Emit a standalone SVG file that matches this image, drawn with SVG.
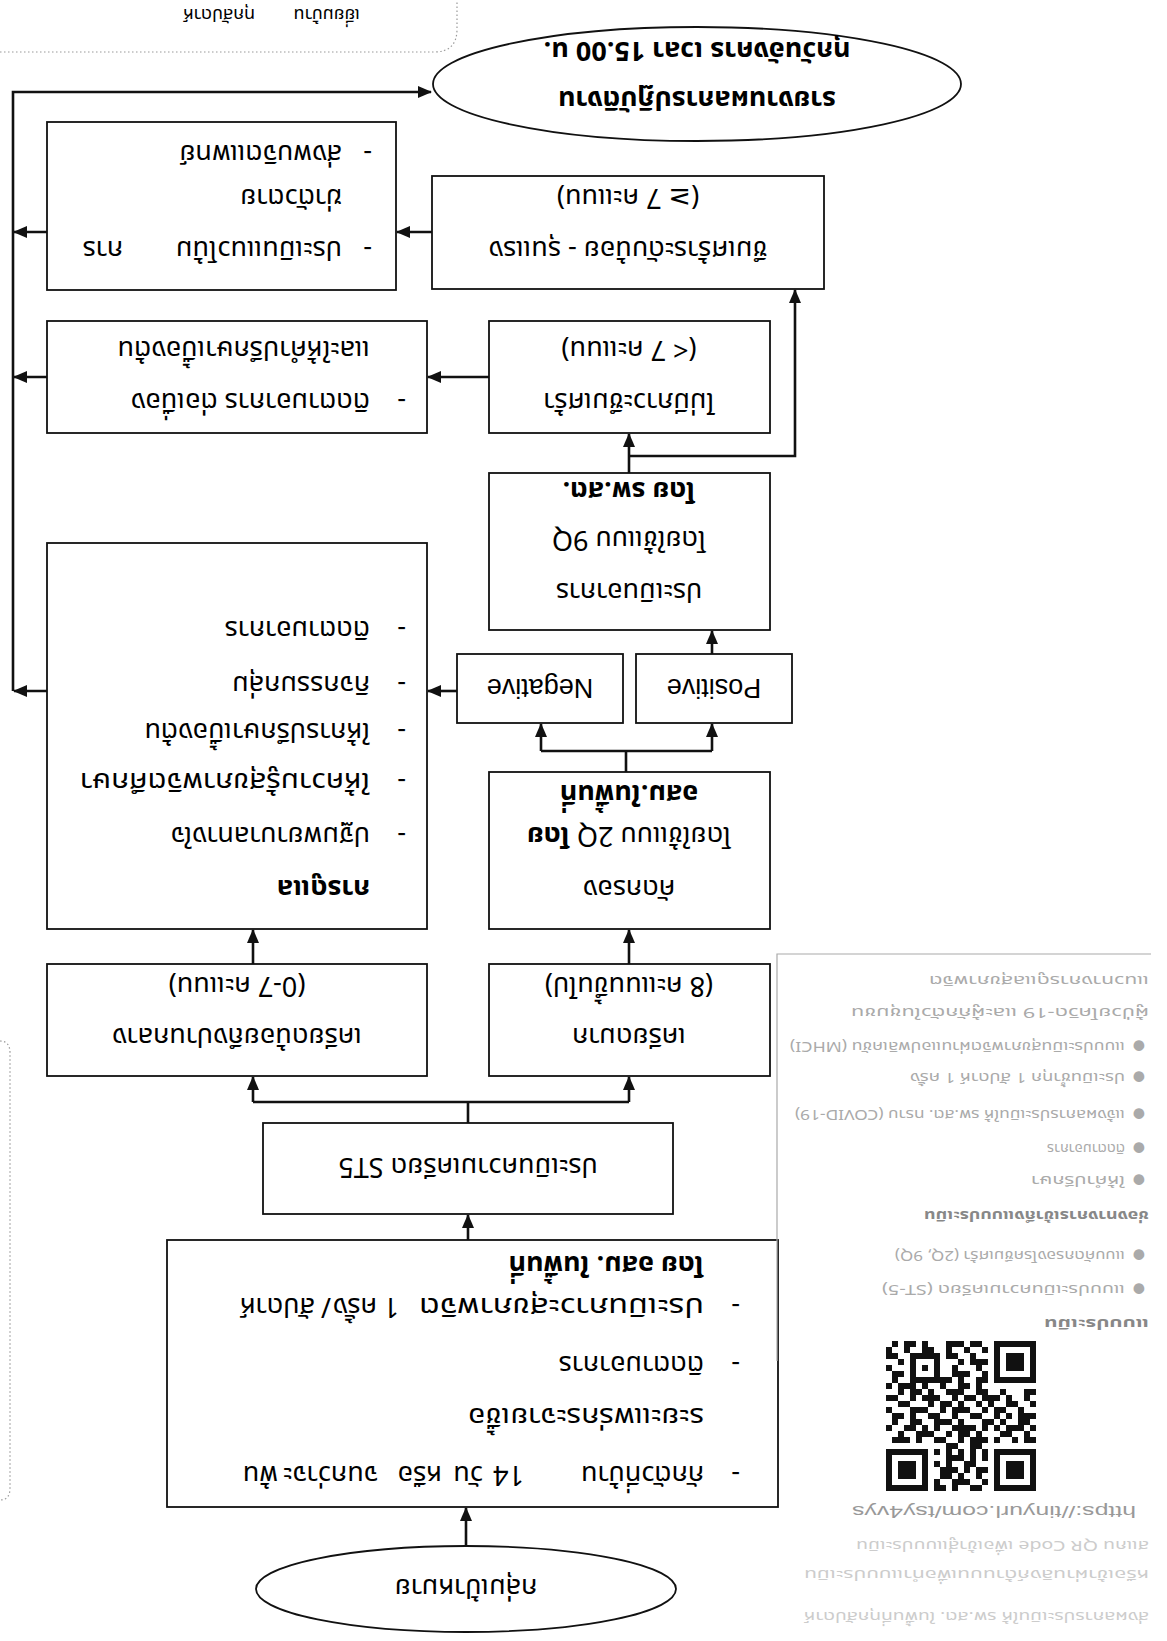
<svg xmlns="http://www.w3.org/2000/svg" width="1167" height="1641" viewBox="0 0 1167 1641">
<style>
.bx{fill:#fff;stroke:#111;stroke-width:1.8}
.el{fill:#fff;stroke:#111;stroke-width:1.8}
.cn{fill:none;stroke:#111;stroke-width:2.6}
.t{font-family:"Noto Sans Thai","Noto Serif Thai","TH Sarabun New","Loma","Garuda","Norasi","Kinnari","Tlwg Typo","DejaVu Sans",sans-serif;font-size:27px;fill:#000}
.b{font-weight:bold}
.c{text-anchor:middle}
.en{font-family:"Liberation Sans",Arial,sans-serif;font-size:27px;fill:#000}
.g{font-family:"Noto Sans Thai","Loma","Garuda","DejaVu Sans",sans-serif;font-size:14px;fill:#aaa}
.gb{font-weight:bold;fill:#888}
.gl{fill:#ccc}
.u{font-family:"Liberation Sans",Arial,sans-serif;font-size:17px;fill:#999}
.dot{fill:none;stroke:#999;stroke-width:1.2;stroke-dasharray:1.5 2.5}
</style>
<defs>
<marker id="ah" markerWidth="14" markerHeight="12" refX="13" refY="6" orient="auto" markerUnits="userSpaceOnUse">
<path d="M0 0L14 6L0 12z" fill="#111"/>
</marker>
</defs>
<rect width="1167" height="1641" fill="#fff"/>
<g transform="rotate(180 583.5 820.5)">
<g id="connectors">
<path class="cn" d="M701 95V133" marker-end="url(#ah)"/>
<path class="cn" d="M699 401V426" marker-end="url(#ah)"/>
<path class="cn" d="M699 518V539M914 539H538"/>
<path class="cn" d="M914 539V564" marker-end="url(#ah)"/>
<path class="cn" d="M538 539V564" marker-end="url(#ah)"/>
<path class="cn" d="M914 677V711" marker-end="url(#ah)"/>
<path class="cn" d="M538 677V711" marker-end="url(#ah)"/>
<path class="cn" d="M541 869V890M626 890H455"/>
<path class="cn" d="M626 890V917" marker-end="url(#ah)"/>
<path class="cn" d="M455 890V917" marker-end="url(#ah)"/>
<path class="cn" d="M710 950H739" marker-end="url(#ah)"/>
<path class="cn" d="M455 987V1010" marker-end="url(#ah)"/>
<path class="cn" d="M538 1168V1207" marker-end="url(#ah)"/>
<path class="cn" d="M538 1185H372V1351" marker-end="url(#ah)"/>
<path class="cn" d="M678 1264H739" marker-end="url(#ah)"/>
<path class="cn" d="M735 1409H770" marker-end="url(#ah)"/>
<path class="cn" d="M1120 950H1153" marker-end="url(#ah)"/>
<path class="cn" d="M1120 1264H1153" marker-end="url(#ah)"/>
<path class="cn" d="M1120 1409H1153" marker-end="url(#ah)"/>
<path class="cn" d="M1154 950V1549H736" marker-end="url(#ah)"/>
</g>
<g id="n_target">
<ellipse class="el" cx="701" cy="52" rx="210" ry="43"/>
<text class="t c" x="701" y="62">กลุ่มเป้าหมาย</text>
</g>
<g id="n_box1">
<rect class="bx" x="389" y="134" width="611" height="267"/>
<text class="t" x="427" y="175">-</text>
<text class="t" x="463" y="175">กักตัวที่บ้าน</text>
<text class="t" x="643" y="175">14</text>
<text class="t" x="684" y="175">วัน</text>
<text class="t" x="725" y="175">หรือ</text>
<text class="t" x="789" y="175">จนกว่าจะ</text>
<text class="t" x="889" y="175">พ้น</text>
<text class="t" x="463" y="233" textLength="236" lengthAdjust="spacingAndGlyphs">ระยะแพร่กระจายเชื้อ</text>
<text class="t" x="427" y="285">-</text>
<text class="t" x="463" y="285">ติดตามอาการ</text>
<text class="t" x="427" y="343">-</text>
<text class="t" x="463" y="343" textLength="285" lengthAdjust="spacingAndGlyphs">ประเมินภาวะสุขภาพจิต</text>
<text class="t" x="768" y="343">1</text>
<text class="t" x="790" y="343">ครั้ง</text>
<text class="t" x="836" y="343">/</text>
<text class="t" x="852" y="343">สัปดาห์</text>
<text class="t b" x="463" y="385">โดย อสม. ในพื้นที่</text>
</g>
<g id="n_st5">
<rect class="bx" x="494" y="427" width="410" height="91"/>
<text class="t c" x="699" y="483">ประเมินความเครียด ST5</text>
</g>
<g id="n_low">
<rect class="bx" x="740" y="565" width="380" height="112"/>
<text class="t c" x="930" y="613">เครียดน้อยถึงปานกลาง</text>
<text class="t c" x="930" y="664">(0-7 คะแนน)</text>
</g>
<g id="n_high">
<rect class="bx" x="397" y="565" width="281" height="112"/>
<text class="t c" x="538" y="613">เครียดมาก</text>
<text class="t c" x="538" y="664">(8 คะแนนขึ้นไป)</text>
</g>
<g id="n_care">
<rect class="bx" x="740" y="712" width="380" height="386"/>
<text class="t b" x="797" y="761">การดูแล</text>
<text class="t" x="761" y="814">-</text>
<text class="t" x="797" y="814">ปฐมพยาบาลทางใจ</text>
<text class="t" x="761" y="868">-</text>
<text class="t" x="797" y="868" textLength="290" lengthAdjust="spacingAndGlyphs">ให้ความรู้สุขภาพจิตศึกษา</text>
<text class="t" x="761" y="918">-</text>
<text class="t" x="797" y="918">ให้การปรึกษาเบื้องต้น</text>
<text class="t" x="761" y="965">-</text>
<text class="t" x="797" y="965">กิจกรรมกลุ่ม</text>
<text class="t" x="761" y="1020">-</text>
<text class="t" x="797" y="1020">ติดตามอาการ</text>
</g>
<g id="n_2q">
<rect class="bx" x="397" y="712" width="281" height="157"/>
<text class="t c" x="538" y="761">คัดกรอง</text>
<text class="t c" x="538" y="814">โดยใช้แบบ 2Q <tspan class="b">โดย</tspan></text>
<text class="t b c" x="538" y="856">อสม.ในพื้นที่</text>
</g>
<g id="n_pos">
<rect class="bx" x="375" y="918" width="156" height="69"/>
<text class="en c" x="453" y="962">Positive</text>
</g>
<g id="n_neg">
<rect class="bx" x="544" y="918" width="166" height="69"/>
<text class="en c" x="627" y="962">Negative</text>
</g>
<g id="n_9q">
<rect class="bx" x="397" y="1011" width="281" height="157"/>
<text class="t c" x="538" y="1058">ประเมินอาการ</text>
<text class="t c" x="538" y="1110">โดยใช้แบบ 9Q</text>
<text class="t b c" x="538" y="1159">โดย รพ.สต.</text>
</g>
<g id="n_lt7">
<rect class="bx" x="397" y="1208" width="281" height="112"/>
<text class="t c" x="538" y="1248">ไม่มีภาวะซึมเศร้า</text>
<text class="t c" x="538" y="1300">(&lt; 7 คะแนน)</text>
</g>
<g id="n_care2">
<rect class="bx" x="740" y="1208" width="380" height="112"/>
<text class="t" x="761" y="1248">-</text>
<text class="t" x="797" y="1248">ติดตามอาการ ต่อเนื่อง</text>
<text class="t" x="797" y="1300">และให้คำปรึกษาเบื้องต้น</text>
</g>
<g id="n_ge7">
<rect class="bx" x="343" y="1352" width="392" height="113"/>
<text class="t c" x="539" y="1400">ซึมเศร้าระดับน้อย - รุนแรง</text>
<text class="t c" x="539" y="1452">(≥ 7 คะแนน)</text>
</g>
<g id="n_refer">
<rect class="bx" x="771" y="1351" width="349" height="168"/>
<text class="t" x="795" y="1400">-</text>
<text class="t" x="825" y="1400">ประเมินแนวโน้ม</text>
<text class="t" x="1044" y="1400">การ</text>
<text class="t" x="825" y="1452">ฆ่าตัวตาย</text>
<text class="t" x="795" y="1496">-</text>
<text class="t" x="825" y="1496">ส่งพบจิตแพทย์</text>
</g>
<g id="n_report">
<ellipse class="el" cx="470" cy="1557" rx="264" ry="57"/>
<text class="t c b" x="470" y="1550">รายงานผลการปฏิบัติงาน</text>
<text class="t c b" x="470" y="1599">ทุกวันอังคาร เวลา 15.00 น.</text>
</g>
<g id="panel">
<path class="dot" d="M1167 1589H733Q710 1589 710 1612V1641"/>
<text class="t" x="807" y="1632" style="font-size:18px">เยี่ยมบ้าน</text>
<text class="t" x="912" y="1632" style="font-size:18px">ทุกสัปดาห์</text>
<path class="dot" d="M1167 600Q1157 600 1157 588V153Q1157 141 1167 141"/>
<path fill="none" stroke="#aaa" stroke-width="1.2" d="M16 687H390V280"/>
<g class="g">
<text x="18" y="665" textLength="220" lengthAdjust="spacingAndGlyphs">แนวทางการดูแลสุขภาพจิต</text>
<text x="18" y="633" textLength="298" lengthAdjust="spacingAndGlyphs">ผู้ป่วยโควิด-19 และผู้กักตัวในชุมชน</text>
<text x="22" y="599">●</text><text x="42" y="599" textLength="335" lengthAdjust="spacingAndGlyphs">แบบประเมินสุขภาพจิตผ่านแอปพลิเคชัน (MHCI)</text>
<text x="22" y="568">●</text><text x="42" y="568" textLength="215" lengthAdjust="spacingAndGlyphs">ประเมินซ้ำทุก 1 สัปดาห์ 1 ครั้ง</text>
<text x="22" y="531">●</text><text x="42" y="531" textLength="330" lengthAdjust="spacingAndGlyphs">แจ้งผลการประเมินให้ รพ.สต. ทราบ (COVID-19)</text>
<text x="22" y="497">●</text><text x="42" y="497" textLength="78" lengthAdjust="spacingAndGlyphs">ติดตามอาการ</text>
<text x="22" y="465">●</text><text x="42" y="465" textLength="94" lengthAdjust="spacingAndGlyphs">ให้คำปรึกษา</text>
<text class="gb" x="18" y="430" textLength="225" lengthAdjust="spacingAndGlyphs">ช่องทางการเข้าถึงแบบประเมิน</text>
<text x="22" y="390">●</text><text x="42" y="390" textLength="230" lengthAdjust="spacingAndGlyphs">แบบคัดกรองโรคซึมเศร้า (2Q, 9Q)</text>
<text x="22" y="356">●</text><text x="42" y="356" textLength="243" lengthAdjust="spacingAndGlyphs">แบบประเมินความเครียด (ST-5)</text>
<text class="gb" x="18" y="322" textLength="105" lengthAdjust="spacingAndGlyphs">แบบประเมิน</text>
<text class="gl" x="18" y="100" textLength="293" lengthAdjust="spacingAndGlyphs">สแกน QR Code เพื่อเข้าสู่แบบประเมิน</text>
<text class="gl" x="18" y="71" textLength="345" lengthAdjust="spacingAndGlyphs">หรือเข้าผ่านลิงก์ด้านบนเพื่อทำแบบประเมิน</text>
<text class="gl" x="18" y="29" textLength="345" lengthAdjust="spacingAndGlyphs">ส่งผลการประเมินให้ รพ.สต. ในพื้นที่ทุกสัปดาห์</text>
</g>
<text class="u" x="31" y="135" textLength="284" lengthAdjust="spacingAndGlyphs">https://tinyurl.com/tsy4vys</text>
<g fill="#111">
<rect x="131" y="150" width="150" height="150" fill="#fff"/>
<path d="M185 150h12v6h-12zM209 150h6v6h-6zM221 150h12v6h-12zM179 156h6v6h-6zM197 156h18v6h-18zM227 156h6v6h-6zM185 162h6v6h-6zM203 162h6v6h-6zM215 162h12v6h-12zM179 168h12v6h-12zM197 168h6v6h-6zM209 168h18v6h-18zM191 174h12v6h-12zM215 174h6v6h-6zM227 174h6v6h-6zM179 180h6v6h-6zM191 180h6v6h-6zM203 180h18v6h-18zM179 186h6v6h-6zM191 186h6v6h-6zM203 186h6v6h-6zM215 186h6v6h-6zM227 186h6v6h-6zM185 192h12v6h-12zM209 192h12v6h-12zM131 198h12v6h-12zM149 198h6v6h-6zM167 198h6v6h-6zM179 198h18v6h-18zM203 198h6v6h-6zM221 198h12v6h-12zM245 198h6v6h-6zM257 198h18v6h-18zM137 204h6v6h-6zM155 204h12v6h-12zM185 204h6v6h-6zM197 204h12v6h-12zM215 204h6v6h-6zM233 204h18v6h-18zM263 204h6v6h-6zM131 210h6v6h-6zM143 210h18v6h-18zM167 210h6v6h-6zM179 210h6v6h-6zM191 210h24v6h-24zM227 210h6v6h-6zM239 210h6v6h-6zM251 210h12v6h-12zM275 210h6v6h-6zM137 216h12v6h-12zM161 216h6v6h-6zM173 216h12v6h-12zM203 216h6v6h-6zM215 216h18v6h-18zM245 216h12v6h-12zM269 216h6v6h-6zM131 222h18v6h-18zM155 222h6v6h-6zM167 222h6v6h-6zM185 222h12v6h-12zM209 222h6v6h-6zM227 222h12v6h-12zM251 222h6v6h-6zM263 222h12v6h-12zM143 228h6v6h-6zM161 228h12v6h-12zM179 228h6v6h-6zM197 228h18v6h-18zM221 228h6v6h-6zM239 228h18v6h-18zM275 228h6v6h-6zM131 234h6v6h-6zM149 234h12v6h-12zM173 234h6v6h-6zM185 234h6v6h-6zM203 234h6v6h-6zM215 234h12v6h-12zM233 234h6v6h-6zM257 234h12v6h-12zM137 240h6v6h-6zM155 240h6v6h-6zM167 240h18v6h-18zM191 240h12v6h-12zM209 240h6v6h-6zM227 240h18v6h-18zM251 240h6v6h-6zM269 240h12v6h-12zM131 246h12v6h-12zM161 246h6v6h-6zM179 246h12v6h-12zM203 246h18v6h-18zM233 246h6v6h-6zM245 246h12v6h-12zM263 246h6v6h-6zM185 252h6v6h-6zM197 252h12v6h-12zM221 252h6v6h-6zM239 252h6v6h-6zM251 252h18v6h-18zM275 252h6v6h-6zM179 258h12v6h-12zM203 258h6v6h-6zM215 258h42v6h-42zM269 258h6v6h-6zM179 264h6v6h-6zM197 264h18v6h-18zM227 264h6v6h-6zM251 264h6v6h-6zM263 264h12v6h-12zM185 270h6v6h-6zM209 270h6v6h-6zM227 270h6v6h-6zM239 270h6v6h-6zM251 270h6v6h-6zM275 270h6v6h-6zM179 276h18v6h-18zM203 276h6v6h-6zM227 276h6v6h-6zM251 276h6v6h-6zM263 276h6v6h-6zM191 282h6v6h-6zM209 282h12v6h-12zM227 282h30v6h-30zM269 282h12v6h-12zM179 288h6v6h-6zM197 288h6v6h-6zM215 288h6v6h-6zM233 288h12v6h-12zM257 288h6v6h-6zM275 288h6v6h-6zM185 294h12v6h-12zM203 294h18v6h-18zM239 294h6v6h-6zM251 294h12v6h-12zM269 294h6v6h-6z"/>
<rect x="134" y="153" width="36" height="36" fill="none" stroke="#111" stroke-width="6"/>
<rect x="143" y="162" width="18" height="18"/>
<rect x="242" y="153" width="36" height="36" fill="none" stroke="#111" stroke-width="6"/>
<rect x="251" y="162" width="18" height="18"/>
<rect x="134" y="261" width="36" height="36" fill="none" stroke="#111" stroke-width="6"/>
<rect x="143" y="270" width="18" height="18"/>
</g>
</g>
</g>
</svg>
